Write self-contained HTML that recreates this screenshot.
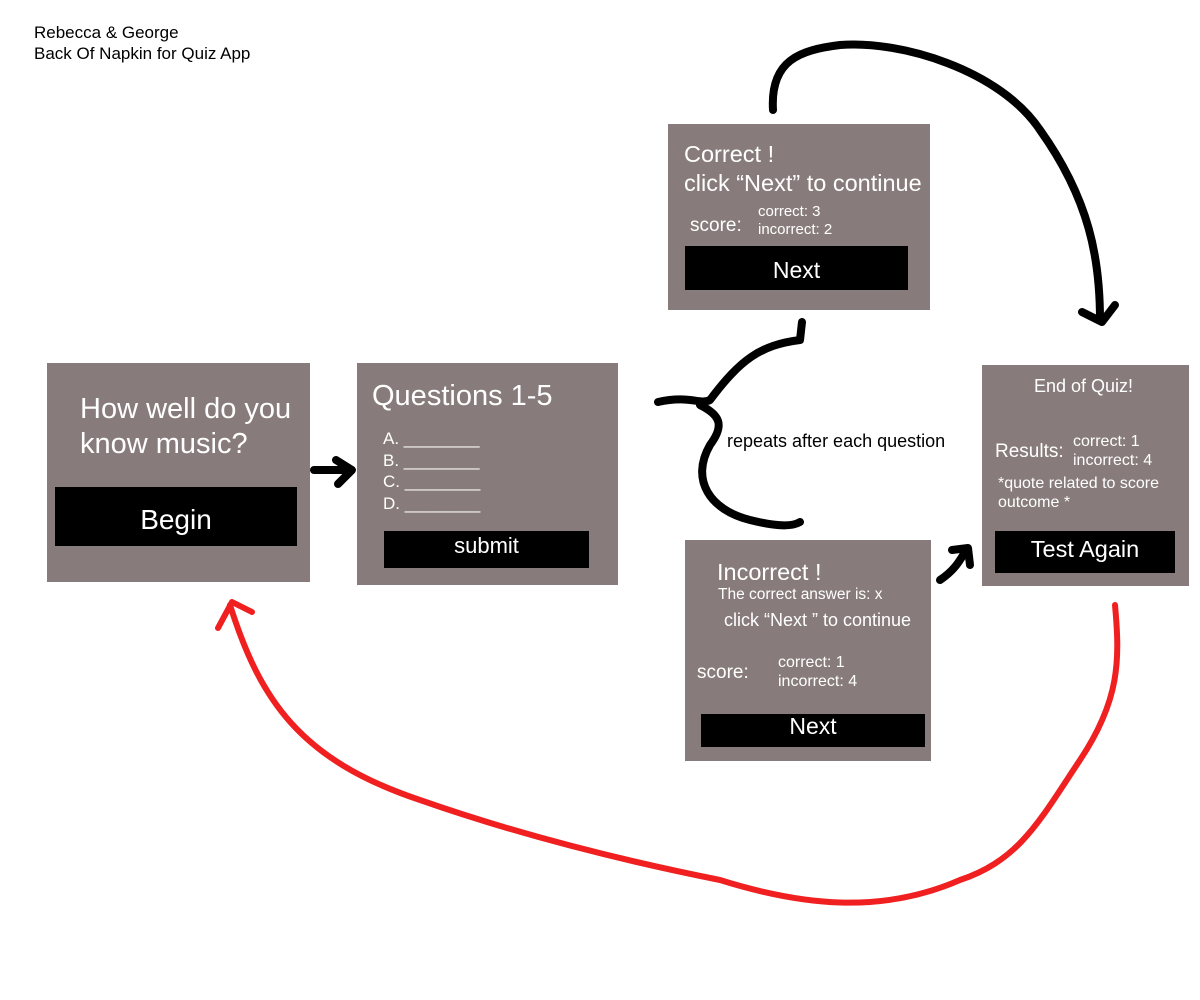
<!DOCTYPE html>
<html><head><style>
body{margin:0;width:1200px;height:1000px;background:#fff;position:relative;font-family:"Liberation Sans",Arial,sans-serif;overflow:hidden}
.a{position:absolute;white-space:nowrap}
.box{position:absolute;background:#877c7b}
.btn{position:absolute;background:#000;color:#fff;text-align:center}
.w{color:#fff}
</style></head><body>
<div class="a" style="left:34px;top:22px;font-size:17px;line-height:21px">Rebecca &amp; George<br>Back Of Napkin for Quiz App</div>

<div class="box" style="left:47px;top:363px;width:263px;height:219px"></div>
<div class="a w" style="left:80px;top:392px;font-size:29px;line-height:35px">How well do you<br>know music?</div>
<div class="btn" style="left:55px;top:487px;width:242px;height:59px;font-size:28px;line-height:66px">Begin</div>

<div class="box" style="left:357px;top:363px;width:261px;height:222px"></div>
<div class="a w" style="left:372px;top:380px;font-size:29px">Questions 1-5</div>
<div class="a w" style="left:383px;top:428px;font-size:17px;line-height:21.5px">A. ________<br>B. ________<br>C. ________<br>D. ________</div>
<div class="btn" style="left:384px;top:531px;width:205px;height:37px;font-size:22px;line-height:30px">submit</div>

<div class="box" style="left:668px;top:124px;width:262px;height:186px"></div>
<div class="a w" style="left:684px;top:140px;font-size:23.5px;line-height:29px">Correct !<br>click “Next” to continue</div>
<div class="a w" style="left:690px;top:215px;font-size:19px">score:</div>
<div class="a w" style="left:758px;top:203px;font-size:15px;line-height:18px">correct: 3<br>incorrect: 2</div>
<div class="btn" style="left:685px;top:246px;width:223px;height:44px;font-size:23px;line-height:48px">Next</div>

<div class="box" style="left:685px;top:540px;width:246px;height:221px"></div>
<div class="a w" style="left:717px;top:559px;font-size:23.5px">Incorrect !</div>
<div class="a w" style="left:718px;top:586px;font-size:15.5px">The correct answer is: x</div>
<div class="a w" style="left:724px;top:610px;font-size:18px">click “Next ” to continue</div>
<div class="a w" style="left:697px;top:662px;font-size:19px">score:</div>
<div class="a w" style="left:778px;top:653px;font-size:16px;line-height:19px">correct: 1<br>incorrect: 4</div>
<div class="btn" style="left:701px;top:714px;width:224px;height:33px;font-size:23px;line-height:25px">Next</div>

<div class="box" style="left:982px;top:365px;width:207px;height:221px"></div>
<div class="a w" style="left:1034px;top:376px;font-size:18px">End of Quiz!</div>
<div class="a w" style="left:995px;top:441px;font-size:19px">Results:</div>
<div class="a w" style="left:1073px;top:432px;font-size:16px;line-height:19px">correct: 1<br>incorrect: 4</div>
<div class="a w" style="left:998px;top:474px;font-size:16px;line-height:19px">*quote related to score<br>outcome *</div>
<div class="btn" style="left:995px;top:531px;width:180px;height:42px;font-size:23.5px;line-height:36px">Test Again</div>

<div class="a" style="left:727px;top:431px;font-size:18px">repeats after each question</div>

<svg width="1200" height="1000" style="position:absolute;left:0;top:0" fill="none" stroke-linecap="round" stroke-linejoin="round">
<g stroke="#000" stroke-width="8">
<path d="M314 470 L350 470 M336 460 L352 470 L338 484"/>
<path d="M773 110 C770 60 800 50 840 45 C900 40 1000 70 1040 130 C1090 200 1100 260 1100 320"/>
<path d="M1082 312 L1102 322 L1115 305"/>
<path d="M658 402 C690 395 700 405 710 400 C740 360 760 345 800 340 L802 322"/>
<path d="M700 405 C720 415 725 425 710 445 C690 480 710 510 750 520 C770 525 790 528 800 522"/>
<path d="M940 580 C955 570 960 560 965 552 M952 550 L968 548 L970 565"/>
</g>
<path d="M230 605 C260 700 300 760 420 800 C520 835 620 860 720 880 C800 905 880 915 960 880 C1020 860 1040 820 1080 760 C1120 700 1120 660 1115 605" stroke="#f02020" stroke-width="6"/>
<path d="M218 628 L232 602 L252 612" stroke="#f02020" stroke-width="6"/>
</svg>
</body></html>
